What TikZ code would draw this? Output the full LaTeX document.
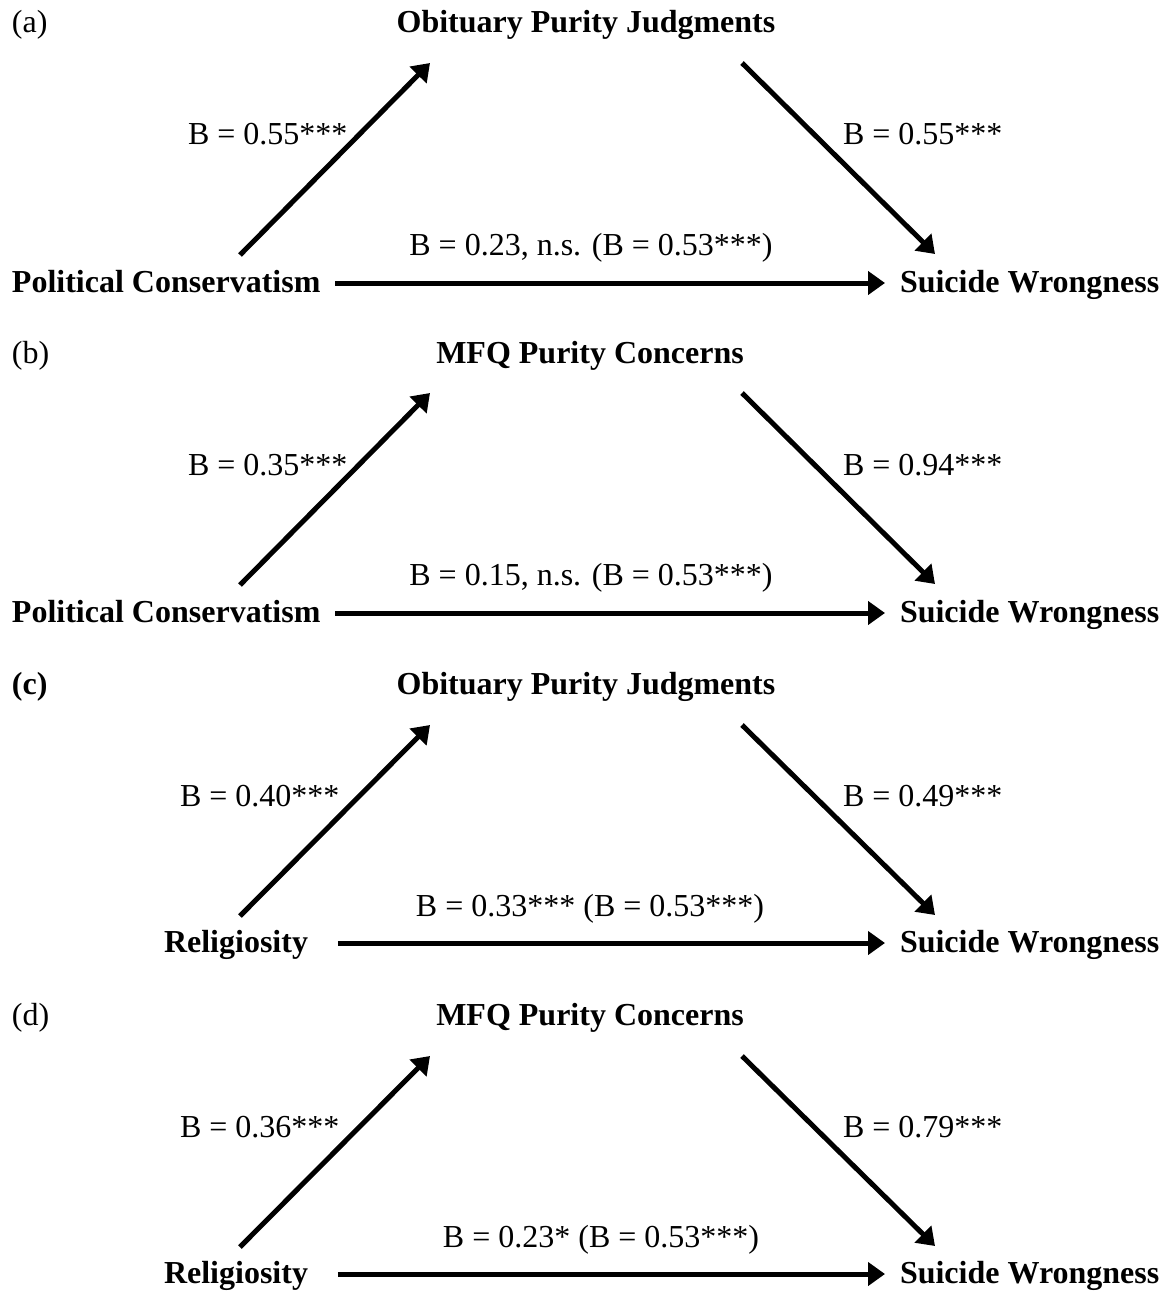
\documentclass[tikz,border=0pt]{standalone}
\usepackage{fontspec}
\setmainfont{Liberation Serif}
\usetikzlibrary{arrows.meta}
\begin{document}
\begin{tikzpicture}[x=1pt,y=-1pt,
  txt/.style={inner sep=0pt,outer sep=0pt,font=\fontsize{32}{38}\selectfont},
  var/.style={inner sep=0pt,outer sep=0pt,text height=22pt,text depth=4pt,font=\fontsize{32}{38}\selectfont\bfseries},
  arr/.style={line width=5pt,-{Triangle[length=17pt,width=23pt]}}]
\useasboundingbox[fill=white] (0,0) rectangle (1165,1292);

% ---------- (a)
\begin{scope}[yshift=0pt]
\node[txt,anchor=base west] (a-tag) at (12,33) {(a)};
\node[var,anchor=base] (a-m) at (586,33) {Obituary Purity Judgments};
\node[var,anchor=base west] (a-x) at (12,292) {Political Conservatism};
\node[var,anchor=base west] (a-y) at (900,292) {Suicide Wrongness};
\coordinate (a-s1) at (240,255); \coordinate (a-t1) at (430,63);
\coordinate (a-s2) at (742,63);  \coordinate (a-t2) at (935,254);
\draw[arr] (a-s1) -- (a-t1);
\draw[arr] (a-s2) -- (a-t2);
\draw[arr] ([xshift=15pt]a-x.east) -- ([xshift=-15pt]a-y.west);
\node[txt,anchor=base west] (a-l1) at (188,145) {B = 0.55***};
\node[txt,anchor=base west] (a-l2) at (843,145) {B = 0.55***};
\node[txt,anchor=base] (a-l3) at (591,255) {B = 0.23, n.s. (B = 0.53***)};
\end{scope}

% ---------- (b)
\begin{scope}[yshift=-330pt]
\node[txt,anchor=base west] (b-tag) at (12,33) {(b)};
\node[var,anchor=base] (b-m) at (590,33) {MFQ Purity Concerns};
\node[var,anchor=base west] (b-x) at (12,292) {Political Conservatism};
\node[var,anchor=base west] (b-y) at (900,292) {Suicide Wrongness};
\coordinate (b-s1) at (240,255); \coordinate (b-t1) at (430,63);
\coordinate (b-s2) at (742,63);  \coordinate (b-t2) at (935,254);
\draw[arr] (b-s1) -- (b-t1);
\draw[arr] (b-s2) -- (b-t2);
\draw[arr] ([xshift=15pt]b-x.east) -- ([xshift=-15pt]b-y.west);
\node[txt,anchor=base west] (b-l1) at (188,145) {B = 0.35***};
\node[txt,anchor=base west] (b-l2) at (843,145) {B = 0.94***};
\node[txt,anchor=base] (b-l3) at (591,255) {B = 0.15, n.s. (B = 0.53***)};
\end{scope}

% ---------- (c)
\begin{scope}[yshift=-660pt]
\node[txt,anchor=base west,font=\fontsize{32}{38}\selectfont\bfseries] (c-tag) at (12,34) {(c)};
\node[var,anchor=base] (c-m) at (586,34) {Obituary Purity Judgments};
\node[var,anchor=base west] (c-x) at (164,292) {Religiosity};
\node[var,anchor=base west] (c-y) at (900,292) {Suicide Wrongness};
\coordinate (c-s1) at (240,256); \coordinate (c-t1) at (430,65);
\coordinate (c-s2) at (742,65);  \coordinate (c-t2) at (935,255);
\draw[arr] (c-s1) -- (c-t1);
\draw[arr] (c-s2) -- (c-t2);
\draw[arr] ([xshift=30pt]c-x.east) -- ([xshift=-15pt]c-y.west);
\node[txt,anchor=base west] (c-l1) at (180,146) {B = 0.40***};
\node[txt,anchor=base west] (c-l2) at (843,146) {B = 0.49***};
\node[txt,anchor=base] (c-l3) at (590,256) {B = 0.33*** (B = 0.53***)};
\end{scope}

% ---------- (d)
\begin{scope}[yshift=-991pt]
\node[txt,anchor=base west] (d-tag) at (12,34) {(d)};
\node[var,anchor=base] (d-m) at (590,34) {MFQ Purity Concerns};
\node[var,anchor=base west] (d-x) at (164,292) {Religiosity};
\node[var,anchor=base west] (d-y) at (900,292) {Suicide Wrongness};
\coordinate (d-s1) at (240,256); \coordinate (d-t1) at (430,65);
\coordinate (d-s2) at (742,65);  \coordinate (d-t2) at (935,255);
\draw[arr] (d-s1) -- (d-t1);
\draw[arr] (d-s2) -- (d-t2);
\draw[arr] ([xshift=30pt]d-x.east) -- ([xshift=-15pt]d-y.west);
\node[txt,anchor=base west] (d-l1) at (180,146) {B = 0.36***};
\node[txt,anchor=base west] (d-l2) at (843,146) {B = 0.79***};
\node[txt,anchor=base] (d-l3) at (601,256) {B = 0.23* (B = 0.53***)};
\end{scope}
\end{tikzpicture}
\end{document}
